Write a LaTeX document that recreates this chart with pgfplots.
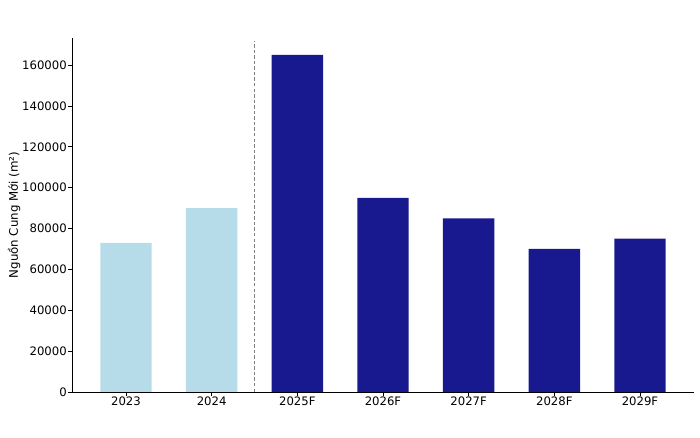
\documentclass[border=0pt]{standalone}
\usepackage{pgfplots}
\pgfplotsset{compat=1.18}
\usepackage{fontspec}
\setmainfont{DejaVu Sans}
\definecolor{lb}{RGB}{181,220,232}
\definecolor{db}{RGB}{25,25,143}
\begin{document}
\begin{tikzpicture}
\path[use as bounding box] (-51.84pt,-33.12pt) rectangle (452.16pt,282.24pt);
\begin{axis}[
  at={(0,0)}, anchor=south west,
  scale only axis, width=447.84pt, height=254.88pt,
  xmin=-0.63, xmax=6.63, ymin=0, ymax=173250,
  axis x line*=bottom, axis y line*=left,
  axis line style={line width=0.6pt},
  tick align=outside, major tick length=2.8pt,
  tick style={black, line width=0.6pt},
  xtick={0,1,2,3,4,5,6},
  xticklabels={2023,2024,2025F,2026F,2027F,2028F,2029F},
  ytick={0,20000,40000,60000,80000,100000,120000,140000,160000},
  scaled y ticks=false,
  yticklabel={\pgfmathparse{int(\tick)}\pgfmathresult},
  ticklabel style={font=\fontsize{8.4}{10}\selectfont, inner sep=0.8pt},
  ylabel={Nguồn Cung Mới (m²)},
  ylabel style={font=\fontsize{8.5}{10}\selectfont, at={(axis description cs:-0.0932,0.5)}, anchor=center},
  ybar, bar width=0.6, bar shift=0pt,
  clip=false,
]
\addplot[fill=lb, draw=none] coordinates {(0,73000) (1,90000)};
\addplot[fill=db, draw=none] coordinates {(2,165000) (3,95000) (4,85000) (5,70000) (6,75000)};
\draw[gray, line width=0.6pt, dash pattern=on 2.5pt off 1.5pt] (axis cs:1.5,0) -- (axis cs:1.5,172000);
\end{axis}
\end{tikzpicture}
\end{document}
